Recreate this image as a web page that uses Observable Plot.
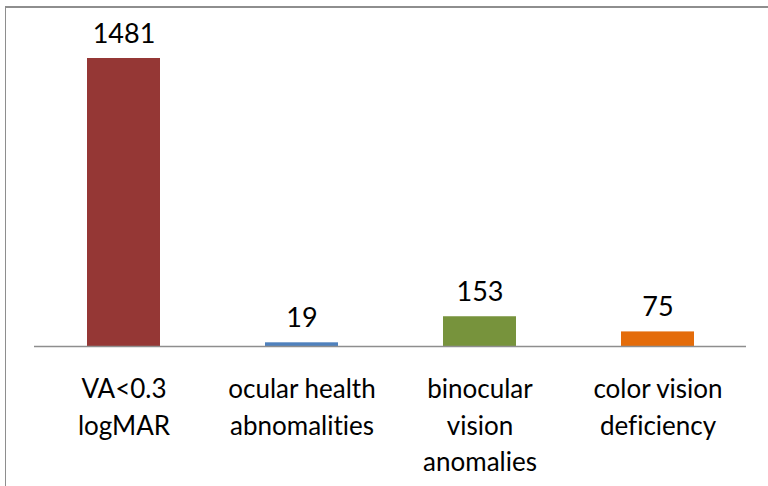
<!DOCTYPE html>
<html>
<head>
<meta charset="utf-8">
<script src="https://cdn.jsdelivr.net/npm/d3@7"></script>
<script src="https://cdn.jsdelivr.net/npm/@observablehq/plot@0.6"></script>
<style>
  html, body { margin: 0; padding: 0; background: #fff; }
  #wrap { position: relative; width: 768px; height: 486px; overflow: hidden; }
  #wrap svg text { font-variant-ligatures: none; font-feature-settings: "liga" 0; }
  #border { position: absolute; left: 5px; top: 6px; right: -10px; bottom: -10px;
            border-top: 2px solid #8e8e8e; border-left: 1px solid #8e8e8e; pointer-events: none; }
</style>
</head>
<body>
<div id="wrap"><div id="border"></div></div>
<script>
const categories = ["VA<0.3\nlogMAR", "ocular health\nabnomalities", "binocular\nvision\nanomalies", "color vision\ndeficiency"];
const values = [1481, 19, 153, 75];
const colors = ["#953735", "#4f81bd", "#77933c", "#e46c0a"];

const data = categories.map((c, i) => ({category: c, value: values[i], color: colors[i]}));

const chart = Plot.plot({
  width: 768,
  height: 486,
  marginLeft: 34,
  marginRight: 22,
  marginTop: 58,
  marginBottom: 140,
  style: {fontFamily: "Lato, 'Open Sans', sans-serif", background: "transparent"},
  x: {domain: categories, paddingInner: 0.59, paddingOuter: 0.295, label: null},
  y: {domain: [0, 1481], axis: null},
  marks: [
    Plot.barY(data, {x: "category", y: "value", fill: "color"}),
    Plot.ruleY([0], {stroke: "#8e8e8e", strokeWidth: 1.5}),
    Plot.text(data, {x: "category", y: "value", text: d => String(d.value), dy: -16,
      lineAnchor: "bottom", fontSize: 27, fill: "#000"}),
    Plot.axisX({tickSize: 0, tickPadding: 26, fontSize: 26, lineHeight: 1.4,
      lineAnchor: "top", color: "#000", label: null})
  ]
});
document.getElementById("wrap").prepend(chart);
</script>
</body>
</html>
